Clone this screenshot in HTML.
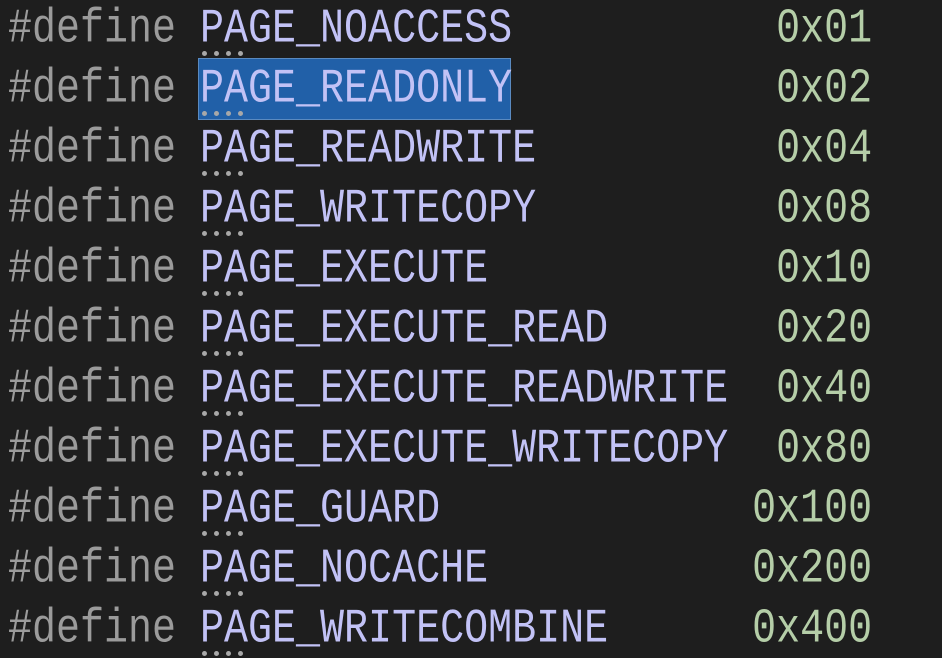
<!DOCTYPE html>
<html><head><meta charset="utf-8"><style>
html,body{margin:0;padding:0;background:#1e1e1e;width:942px;height:658px;overflow:hidden}
.r{position:absolute;left:8px;height:40px;line-height:40px;font-family:"Liberation Mono",monospace;font-size:40px;white-space:pre;transform:scaleY(1.2);transform-origin:0 30.6px;color:#9b9b9b}
.i{color:#c2c2f6}.n{color:#b5cea8}
.hl{position:absolute;left:198px;top:58px;width:311px;height:60px;background:#2160a8;border:1px solid #5a8ac0}
.d{position:absolute;width:5px;height:5px;border-radius:50%;background:#a8a8a8}
</style></head><body>
<div class="hl"></div>
<div class="r" style="top:13.4px">#define <span class="i">PAGE_NOACCESS</span>           <span class="n">0x01</span></div>
<div class="r" style="top:73.4px">#define <span class="i">PAGE_READONLY</span>           <span class="n">0x02</span></div>
<div class="r" style="top:133.4px">#define <span class="i">PAGE_READWRITE</span>          <span class="n">0x04</span></div>
<div class="r" style="top:193.4px">#define <span class="i">PAGE_WRITECOPY</span>          <span class="n">0x08</span></div>
<div class="r" style="top:253.4px">#define <span class="i">PAGE_EXECUTE</span>            <span class="n">0x10</span></div>
<div class="r" style="top:313.4px">#define <span class="i">PAGE_EXECUTE_READ</span>       <span class="n">0x20</span></div>
<div class="r" style="top:373.4px">#define <span class="i">PAGE_EXECUTE_READWRITE</span>  <span class="n">0x40</span></div>
<div class="r" style="top:433.4px">#define <span class="i">PAGE_EXECUTE_WRITECOPY</span>  <span class="n">0x80</span></div>
<div class="r" style="top:493.4px">#define <span class="i">PAGE_GUARD</span>             <span class="n">0x100</span></div>
<div class="r" style="top:553.4px">#define <span class="i">PAGE_NOCACHE</span>           <span class="n">0x200</span></div>
<div class="r" style="top:613.4px">#define <span class="i">PAGE_WRITECOMBINE</span>      <span class="n">0x400</span></div>
<div id="dots"></div>
<script>
var h='';for(var r=0;r<11;r++){for(var k=0;k<4;k++){h+='<div class="d" style="left:'+(202+12*k)+'px;top:'+(51+60*r)+'px"></div>';}}
document.getElementById('dots').innerHTML=h;
</script>
</body></html>
